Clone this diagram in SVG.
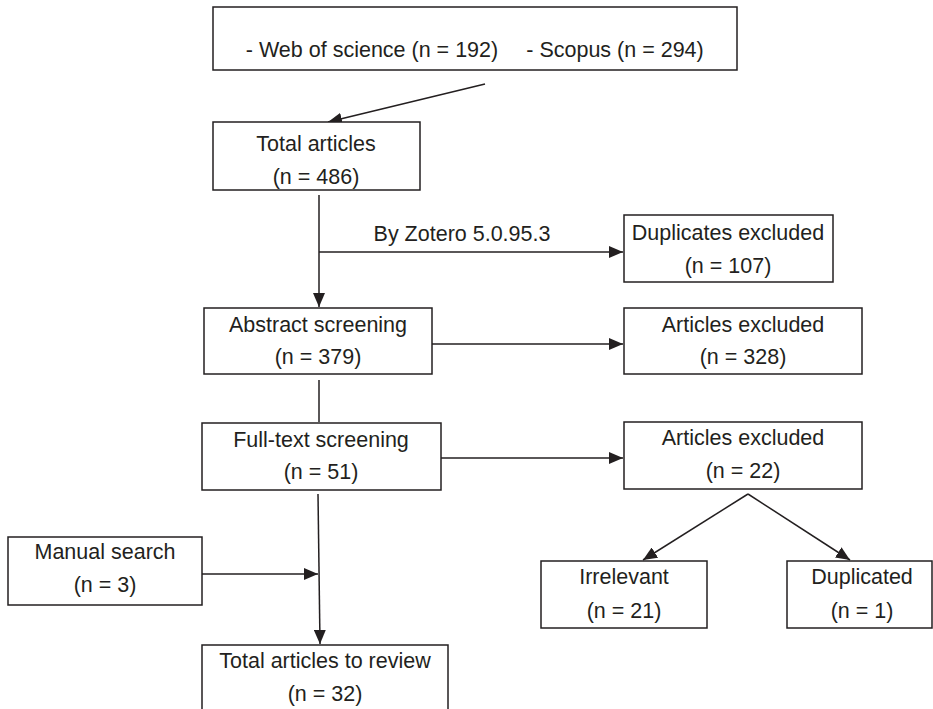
<svg xmlns="http://www.w3.org/2000/svg" width="933" height="709" viewBox="0 0 933 709">
<style>
.box{fill:#fff;stroke:#231f20;stroke-width:1.5}
.t{font-family:"Liberation Sans",Arial,sans-serif;font-size:21.5px;fill:#231f20;text-anchor:middle}
.c{fill:none;stroke:#231f20;stroke-width:1.5}
</style>
<defs>
<marker id="ah" markerUnits="userSpaceOnUse" markerWidth="15" markerHeight="12" refX="14" refY="6" orient="auto">
<path d="M0,0 L14,6 L0,12 Z" fill="#231f20"/>
</marker>
</defs>
<rect width="933" height="709" fill="#fff"/>
<g id="connectors">
<line class="c" x1="485" y1="84" x2="328" y2="122" marker-end="url(#ah)"/>
<line class="c" x1="319" y1="195" x2="319" y2="307" marker-end="url(#ah)"/>
<line class="c" x1="319" y1="252" x2="623" y2="252" marker-end="url(#ah)"/>
<text class="t" x="462" y="241">By Zotero 5.0.95.3</text>
<line class="c" x1="432" y1="344" x2="623" y2="344" marker-end="url(#ah)"/>
<line class="c" x1="319" y1="380" x2="319" y2="422"/>
<line class="c" x1="441" y1="458" x2="623" y2="458" marker-end="url(#ah)"/>
<line class="c" x1="318" y1="494" x2="320" y2="644" marker-end="url(#ah)"/>
<line class="c" x1="202" y1="574" x2="318" y2="574" marker-end="url(#ah)"/>
<line class="c" x1="748" y1="494" x2="643" y2="560" marker-end="url(#ah)"/>
<line class="c" x1="748" y1="494" x2="850" y2="560" marker-end="url(#ah)"/>
</g>
<g id="sources">
<rect class="box" x="213" y="7" width="524" height="63"/>
<text class="t" x="372" y="57">- Web of science (n = 192)</text>
<text class="t" x="615" y="57">- Scopus (n = 294)</text>
</g>
<g id="total">
<rect class="box" x="213" y="122" width="207" height="68"/>
<text class="t" x="316" y="151">Total articles</text>
<text class="t" x="316" y="184">(n = 486)</text>
</g>
<g id="duplicates">
<rect class="box" x="624" y="215" width="209" height="67"/>
<text class="t" x="728" y="240">Duplicates excluded</text>
<text class="t" x="728" y="273">(n = 107)</text>
</g>
<g id="abstract">
<rect class="box" x="204" y="308" width="228" height="66"/>
<text class="t" x="318" y="332">Abstract screening</text>
<text class="t" x="318" y="364">(n = 379)</text>
</g>
<g id="excluded1">
<rect class="box" x="624" y="308" width="238" height="66"/>
<text class="t" x="743" y="332">Articles excluded</text>
<text class="t" x="743" y="364">(n = 328)</text>
</g>
<g id="fulltext">
<rect class="box" x="202" y="423" width="239" height="67"/>
<text class="t" x="321" y="447">Full-text screening</text>
<text class="t" x="321" y="479">(n = 51)</text>
</g>
<g id="excluded2">
<rect class="box" x="624" y="422" width="238" height="67"/>
<text class="t" x="743" y="445">Articles excluded</text>
<text class="t" x="743" y="478">(n = 22)</text>
</g>
<g id="manual">
<rect class="box" x="8" y="537" width="194" height="68"/>
<text class="t" x="105" y="559">Manual search</text>
<text class="t" x="105" y="592">(n = 3)</text>
</g>
<g id="irrelevant">
<rect class="box" x="541" y="561" width="166" height="67"/>
<text class="t" x="624" y="584">Irrelevant</text>
<text class="t" x="624" y="618">(n = 21)</text>
</g>
<g id="duplicated">
<rect class="box" x="787" y="561" width="145" height="67"/>
<text class="t" x="862" y="584">Duplicated</text>
<text class="t" x="862" y="618">(n = 1)</text>
</g>
<g id="review">
<rect class="box" x="202" y="645" width="246" height="70"/>
<text class="t" x="325" y="668">Total articles to review</text>
<text class="t" x="325" y="701">(n = 32)</text>
</g>
</svg>
